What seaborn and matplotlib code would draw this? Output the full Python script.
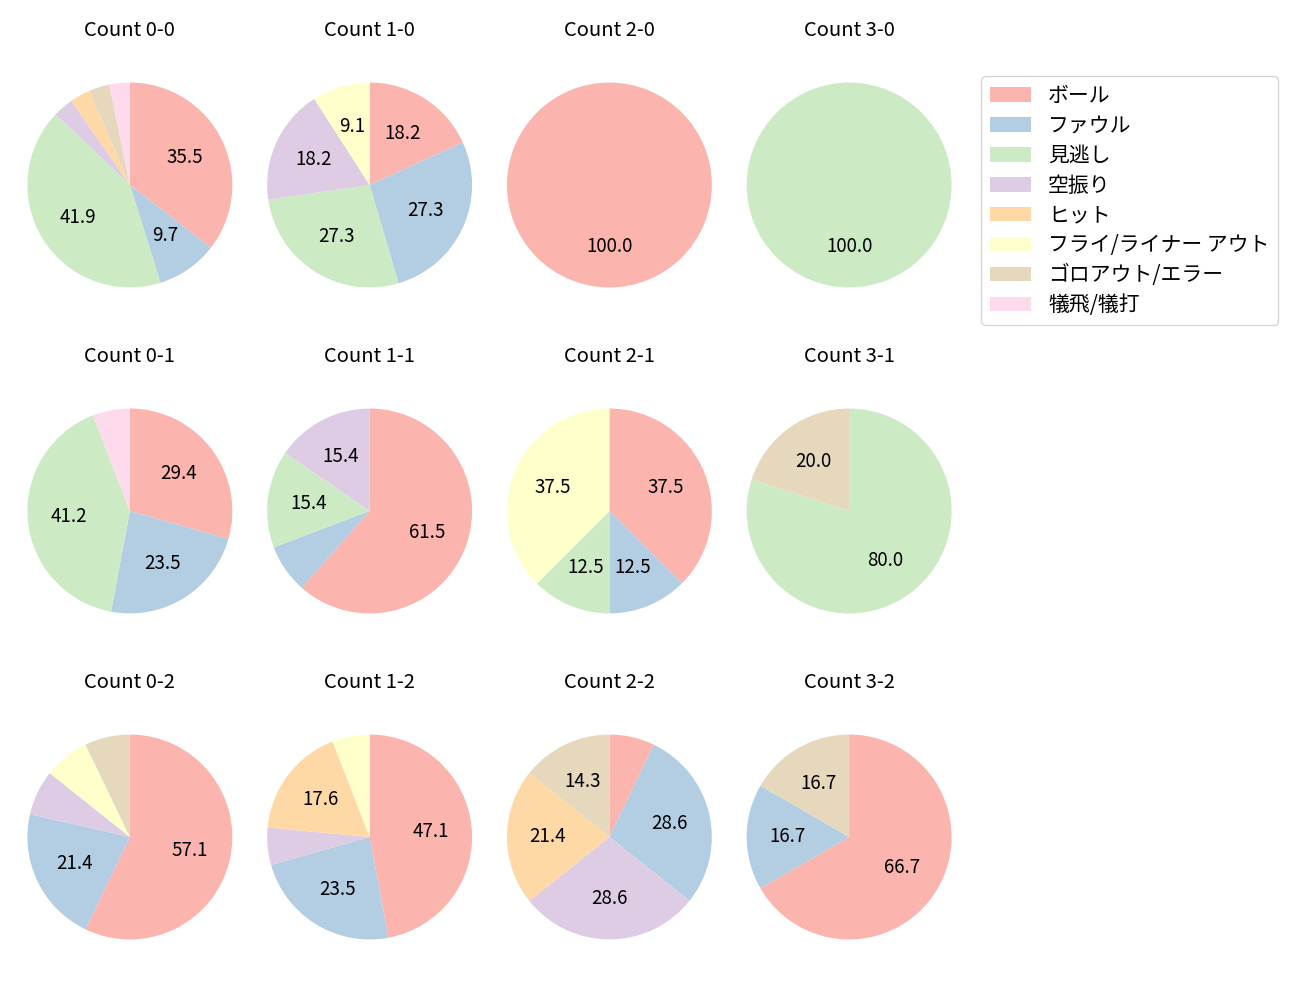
import matplotlib
matplotlib.use("Agg")
import matplotlib.pyplot as plt
import matplotlib.patches as mpatches
import seaborn as sns

categories = ["ボール", "ファウル", "見逃し", "空振り", "ヒット",
              "フライ/ライナー アウト", "ゴロアウト/エラー", "犠飛/犠打"]

count_labels = ["0-0", "1-0", "2-0", "3-0",
                "0-1", "1-1", "2-1", "3-1",
                "0-2", "1-2", "2-2", "3-2"]

# counts per category (same order as categories)
c_0_0 = [11, 3, 13, 1, 1, 0, 1, 1]
c_1_0 = [2, 3, 3, 2, 0, 1, 0, 0]
c_2_0 = [1, 0, 0, 0, 0, 0, 0, 0]
c_3_0 = [0, 0, 1, 0, 0, 0, 0, 0]
c_0_1 = [5, 4, 7, 0, 0, 0, 0, 1]
c_1_1 = [8, 1, 2, 2, 0, 0, 0, 0]
c_2_1 = [3, 1, 1, 0, 0, 3, 0, 0]
c_3_1 = [0, 0, 4, 0, 0, 0, 1, 0]
c_0_2 = [8, 3, 0, 1, 0, 1, 1, 0]
c_1_2 = [8, 4, 0, 1, 3, 1, 0, 0]
c_2_2 = [1, 4, 0, 4, 3, 0, 2, 0]
c_3_2 = [4, 1, 0, 0, 0, 0, 1, 0]

all_counts = [c_0_0, c_1_0, c_2_0, c_3_0,
              c_0_1, c_1_1, c_2_1, c_3_1,
              c_0_2, c_1_2, c_2_2, c_3_2]

sns.set_theme(style="white")
plt.rcParams['font.family'] = ['Noto Sans CJK JP', 'DejaVu Sans']
plt.rcParams['text.color'] = 'black'

colors = sns.color_palette("Pastel1", len(categories))

fig, axes = plt.subplots(3, 4, figsize=(13, 10), dpi=100)
fig.subplots_adjust(left=10/1300, right=969/1300, top=0.978, bottom=0.0,
                    wspace=0, hspace=0)

for ax, lab, vals in zip(axes.flat, count_labels, all_counts):
    idx = [i for i, v in enumerate(vals) if v > 0]
    v = [vals[i] for i in idx]
    cols = [colors[i] for i in idx]
    ax.pie(v, colors=cols, startangle=90, counterclock=False,
           autopct=lambda p: f"{p:.1f}" if p > 8 else "",
           wedgeprops={"linewidth": 0, "edgecolor": "none"},
           textprops={"fontsize": 13.5, "color": "black"})
    ax.set_xlim(-1.17, 1.17)
    ax.set_ylim(-1.17, 1.17)
    ax.set_title(f"Count {lab}", fontsize=14.5, pad=21, color="black")

handles = [mpatches.Patch(facecolor=colors[i], edgecolor="none", label=c)
           for i, c in enumerate(categories)]
fig.legend(handles=handles, loc="upper left",
           bbox_to_anchor=(971/1300, 1 - 66/1000), fontsize=15,
           frameon=True, labelspacing=0.38)

fig.savefig("out.png", dpi=100)
